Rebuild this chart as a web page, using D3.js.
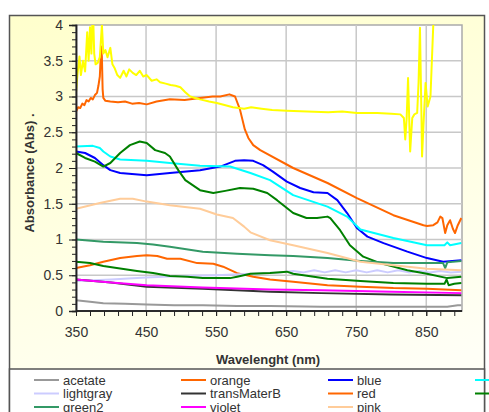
<!DOCTYPE html>
<html>
<head>
<meta charset="utf-8">
<script src="https://cdn.jsdelivr.net/npm/d3@7"></script>
<style>
  body { margin: 0; background: #fff; }
  text { font-family: "Liberation Sans", Arial, sans-serif; fill: #333; }
</style>
</head>
<body>
<svg id="chart" width="489" height="412"></svg>
<script>
// spectra: [wavelength nm, absorbance]
const acetate = [[350,0.15],[370,0.13],[389,0.11],[420,0.1],[451,0.09],[490,0.08],[531,0.08],[580,0.07],[627,0.07],[700,0.06],[760,0.06],[820,0.06],[880,0.06],[895,0.08],[900,0.08]]
const orange = [[350,0.6],[370,0.64],[389,0.69],[413,0.74],[437,0.77],[451,0.78],[466,0.77],[480,0.73],[499,0.73],[523,0.67],[546,0.66],[560,0.62],[580,0.53],[603,0.48],[627,0.44],[660,0.41],[709,0.36],[756,0.34],[803,0.32],[851,0.31],[900,0.29]]
const blue = [[350,2.23],[363,2.21],[377,2.14],[389,2.04],[399,1.97],[413,1.93],[451,1.9],[484,1.93],[527,1.97],[556,2.02],[577,2.1],[590,2.11],[603,2.1],[617,2.04],[631,1.95],[651,1.81],[670,1.72],[689,1.66],[709,1.65],[723,1.55],[737,1.37],[751,1.16],[766,1.04],[789,0.95],[823,0.83],[851,0.74],[874,0.69],[900,0.71]]
const cyan = [[350,2.3],[374,2.31],[384,2.28],[389,2.23],[399,2.16],[413,2.12],[451,2.1],[484,2.07],[527,2.03],[570,2.02],[599,1.93],[627,1.83],[660,1.62],[709,1.46],[737,1.32],[756,1.14],[803,1.02],[851,0.92],[876,0.92],[880,0.96],[884,0.92],[900,0.95]]
const lightgray = [[350,0.42],[400,0.44],[450,0.47],[500,0.49],[550,0.5],[600,0.52],[640,0.54],[660,0.56],[675,0.54],[690,0.57],[705,0.54],[720,0.57],[735,0.54],[750,0.57],[765,0.54],[780,0.57],[795,0.54],[810,0.57],[825,0.54],[840,0.56],[855,0.54],[870,0.56],[885,0.54],[900,0.55]]
const transMaterB = [[350,0.44],[400,0.4],[451,0.34],[531,0.31],[627,0.27],[700,0.25],[800,0.23],[900,0.22]]
const red = [[350,2.79],[353,2.85],[356,2.84],[359,2.9],[362,2.88],[365,2.95],[368,2.93],[371,2.98],[374,2.96],[377,3.02],[380,3.05],[382,3.15],[384,3.28],[386,3.7],[387,3.55],[388,3.1],[389,2.98],[392,2.94],[399,2.93],[410,2.92],[420,2.93],[430,2.9],[440,2.91],[451,2.89],[465,2.93],[484,2.96],[505,2.95],[527,2.98],[545,3.0],[556,3.0],[569,3.03],[577,3.0],[584,2.82],[591,2.54],[596,2.42],[603,2.32],[613,2.25],[660,2.0],[709,1.79],[751,1.58],[803,1.34],[846,1.2],[851,1.19],[860,1.2],[866,1.24],[870,1.32],[873,1.3],[877,1.09],[880,1.2],[884,1.27],[888,1.15],[891,1.09],[895,1.2],[900,1.3]]
const green = [[350,2.21],[363,2.14],[377,2.09],[389,2.02],[399,2.07],[413,2.21],[427,2.32],[441,2.37],[451,2.35],[463,2.25],[477,2.21],[484,2.16],[496,1.97],[506,1.83],[527,1.69],[546,1.65],[563,1.68],[584,1.72],[603,1.71],[623,1.65],[637,1.55],[660,1.37],[679,1.3],[694,1.3],[709,1.32],[713,1.3],[727,1.13],[741,0.92],[760,0.76],[784,0.67],[823,0.57],[851,0.52],[880,0.46],[900,0.48]]
const green2 = [[350,1.0],[389,0.97],[437,0.95],[460,0.93],[484,0.9],[531,0.83],[580,0.8],[627,0.78],[660,0.77],[709,0.74],[756,0.7],[803,0.67],[851,0.67],[874,0.67],[877,0.6],[880,0.68],[900,0.7]]
const violet = [[350,0.44],[400,0.4],[451,0.36],[531,0.33],[627,0.3],[700,0.29],[800,0.27],[900,0.25]]
const pink = [[350,1.43],[384,1.51],[413,1.57],[431,1.57],[451,1.53],[484,1.48],[527,1.43],[551,1.35],[574,1.3],[590,1.18],[599,1.1],[627,0.99],[660,0.92],[709,0.81],[756,0.69],[803,0.64],[851,0.59],[900,0.57]]
const yellow = [[350,3.05],[352,3.3],[355,3.56],[357,3.3],[360,3.5],[363,3.35],[366,3.9],[368,3.5],[370,3.97],[372,3.6],[374,4.3],[376,3.6],[378,3.45],[381,3.47],[384,3.55],[387,4.0],[389,3.6],[392,3.65],[395,3.55],[399,3.68],[402,3.45],[405,3.4],[409,3.3],[413,3.26],[418,3.36],[422,3.28],[426,3.38],[431,3.33],[436,3.3],[441,3.36],[446,3.28],[451,3.3],[458,3.22],[465,3.24],[470,3.2],[478,3.18],[485,3.16],[492,3.15],[499,3.13],[506,3.06],[513,3.0],[520,2.98],[527,2.96],[540,2.93],[551,2.91],[562,2.88],[574,2.85],[590,2.83],[600,2.85],[615,2.83],[630,2.81],[651,2.8],[680,2.79],[710,2.78],[730,2.79],[751,2.77],[780,2.77],[800,2.76],[813,2.75],[818,2.7],[820,2.4],[822,2.7],[824,3.26],[827,2.23],[830,2.7],[833,2.75],[837,2.77],[839,3.2],[841,3.96],[843,2.8],[844,2.16],[846,2.6],[849,3.19],[852,2.86],[856,3.0],[860,4.0],[863,4.4]]
const green3 = [[350,0.69],[370,0.67],[389,0.63],[437,0.56],[460,0.53],[484,0.49],[509,0.48],[531,0.46],[570,0.46],[580,0.48],[599,0.52],[627,0.53],[651,0.55],[660,0.52],[709,0.45],[756,0.42],[803,0.39],[851,0.38],[876,0.38],[879,0.44],[882,0.36],[890,0.38],[900,0.39]]

const seriesNames = ['acetate', 'orange', 'blue', 'cyan', 'lightgray', 'transMaterB', 'red', 'green', 'green2', 'violet', 'pink', 'yellow', 'green3']
const seriesData = [acetate, orange, blue, cyan, lightgray, transMaterB, red, green, green2, violet, pink, yellow, green3]
const seriesColors = ['#999999', '#FF6600', '#0000FF', '#00FFFF', '#CCCCFF', '#333333', '#FF6600', '#008000', '#339966', '#FF00FF', '#FFCC99', '#FFFF00', '#008000']
const legendNames = seriesNames.slice(0, 11)

const xTicks = [350, 450, 550, 650, 750, 850]
const yTicks = [0, 0.5, 1, 1.5, 2, 2.5, 3, 3.5, 4]

const svg = d3.select('#chart')
const plot = { left: 76, top: 25, right: 462, bottom: 311 }

const x = d3.scaleLinear().domain([350, 901]).range([plot.left, plot.right])
const y = d3.scaleLinear().domain([0, 4]).range([plot.bottom, plot.top])

// frame background
const grad = svg.append('defs').append('linearGradient')
  .attr('id', 'bg').attr('x1', 0).attr('y1', 0).attr('x2', 0.3).attr('y2', 1)
grad.append('stop').attr('offset', 0).attr('stop-color', '#FFFFCC')
grad.append('stop').attr('offset', 1).attr('stop-color', '#FFFFF6')
svg.select('defs').append('clipPath').attr('id', 'clip')
  .append('rect').attr('x', plot.left).attr('y', plot.top)
  .attr('width', plot.right - plot.left).attr('height', plot.bottom - plot.top)

svg.append('rect').attr('x', 9.5).attr('y', 15.5).attr('width', 475).attr('height', 420)
  .attr('fill', 'url(#bg)').attr('stroke', '#555').attr('stroke-width', 1.5)

svg.append('rect').attr('x', plot.left).attr('y', plot.top)
  .attr('width', plot.right - plot.left).attr('height', plot.bottom - plot.top)
  .attr('fill', '#fff').attr('stroke', '#AAA').attr('stroke-width', 1.5)

// grid
svg.append('g').selectAll('line').data(yTicks.filter(d => d > 0 && d < 4)).join('line')
  .attr('x1', plot.left).attr('x2', plot.right).attr('y1', d => y(d)).attr('y2', d => y(d))
  .attr('stroke', '#C8C8C8').attr('stroke-width', 1.5)
svg.append('g').selectAll('line').data(xTicks.slice(1)).join('line')
  .attr('y1', plot.top).attr('y2', plot.bottom).attr('x1', d => x(d)).attr('x2', d => x(d))
  .attr('stroke', '#C8C8C8').attr('stroke-width', 1.5)

// series
const line = d3.line().x(d => x(d[0])).y(d => y(d[1]))
svg.append('g').attr('clip-path', 'url(#clip)')
  .selectAll('path').data(seriesData).join('path')
  .attr('d', line).attr('fill', 'none')
  .attr('stroke', (d, i) => seriesColors[i]).attr('stroke-width', 2)
  .attr('stroke-linejoin', 'round')

// axes
const yAxis = svg.append('g').attr('transform', `translate(${plot.left},0)`)
  .call(d3.axisLeft(y).tickValues(d3.range(0, 4.01, 0.1)).tickSize(4).tickFormat(''))
const yMajor = svg.append('g').attr('transform', `translate(${plot.left},0)`)
  .call(d3.axisLeft(y).tickValues(yTicks).tickSize(7).tickPadding(6).tickFormat(d3.format('')))
const xAxis = svg.append('g').attr('transform', `translate(0,${plot.bottom})`)
  .call(d3.axisBottom(x).tickValues(d3.range(350, 901, 20)).tickSize(5).tickFormat(''))
const xMajor = svg.append('g').attr('transform', `translate(0,${plot.bottom})`)
  .call(d3.axisBottom(x).tickValues(xTicks).tickSize(5).tickPadding(11))

;[yAxis, yMajor, xAxis, xMajor].forEach(g => {
  g.select('.domain').attr('stroke', '#222').attr('stroke-width', 1.5)
  g.selectAll('.tick line').attr('stroke', '#222')
  g.selectAll('.tick text').attr('font-size', 14).attr('fill', '#333')
    .style('font-family', '"Liberation Sans", Arial, sans-serif')
})
xAxis.select('.domain').attr('d', `M${plot.left},0H${plot.right}`)
xMajor.select('.domain').attr('d', `M${plot.left},0H${plot.right}`)

// titles
svg.append('text').attr('transform', 'translate(34,173) rotate(-90)')
  .attr('text-anchor', 'middle').attr('font-size', 13).attr('font-weight', 'bold')
  .text('Absorbance (Abs) .')
svg.append('text').attr('x', 268).attr('y', 364)
  .attr('text-anchor', 'middle').attr('font-size', 13).attr('font-weight', 'bold')
  .text('Wavelenght (nm)')

// legend
svg.append('rect').attr('x', 9.5).attr('y', 369).attr('width', 475).attr('height', 60)
  .attr('fill', '#fff').attr('stroke', '#555').attr('stroke-width', 1.5)
const items = svg.append('g').selectAll('g').data(legendNames).join('g')
  .attr('transform', (d, i) => `translate(${34 + (i % 4) * 147},${380 + Math.floor(i / 4) * 13.5})`)
items.append('line').attr('x1', 0).attr('x2', 25)
  .attr('stroke', (d, i) => seriesColors[i]).attr('stroke-width', 2)
items.append('text').attr('x', 29).attr('dy', '0.35em').attr('font-size', 13).text(d => d)
</script>
</body>
</html>
